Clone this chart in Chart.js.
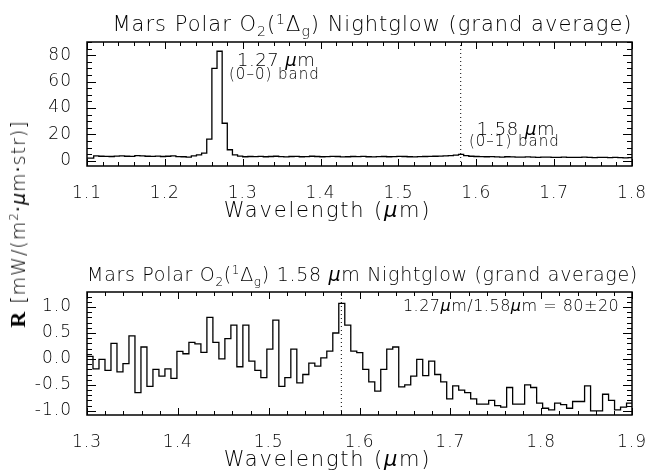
<!DOCTYPE html>
<html lang="en">
<head>
<meta charset="UTF-8">
<title>Mars Polar O2 Nightglow</title>
<script src="https://cdn.jsdelivr.net/npm/chart.js"></script>
<style>
  body { margin: 0; background: #fff; }
  #wrap { position: relative; width: 664px; height: 474px; overflow: hidden; font-family: "DejaVu Sans", sans-serif; }
  #wrap canvas { position: absolute; left: 0; }
  #c1 { top: 0; }
  #c2 { top: 237px; }
  #ylab {
    position: absolute; left: 18px; top: 224px;
    transform: translate(-50%, -50%) rotate(-90deg);
    white-space: nowrap; font-size: 19px; letter-spacing: 1px; font-weight: 200;
  }
  #ylab .r { font-family: "Liberation Serif", serif; font-weight: bold; font-size: 22px; }
  #ylab sup { font-size: 12px; }
</style>
</head>
<body>
<div id="wrap">
  <canvas id="c1" width="664" height="237"></canvas>
  <canvas id="c2" width="664" height="237"></canvas>
  <div id="ylab"><span class="r">R</span> [mW/(m<sup>2</sup><b>&middot;</b><i>&mu;</i>m<b>&middot;</b>str)]</div>
</div>
<script>
// spectrum sampling (bin left edges)
const binWidth = 0.0066;
const topStart = 1.0954;
const bottomStart = 1.3;
const bandLine = 1.58;

// top panel: full spectrum, 1.1 - 1.8 um
const topValues = [
  2.0, 2.0, 3.6, 3.4, 3.3, 3.2, 3.5, 3.6, 3.4, 3.3,
  3.8, 3.6, 3.4, 3.3, 3.5, 3.2, 3.4, 3.6, 3.1, 3.0,
  2.7, 3.6, 4.5, 5.7, 16.4, 70, 83, 28.4, 8.3, 4.5, 3.5,
  3.0, 3.2, 3.1, 3.3, 3.0, 3.2, 3.4, 3.1, 2.9, 3.2,
  3.3, 3.0, 3.1, 3.4, 3.2, 3.0, 3.1, 3.3, 3.2, 2.9,
  3.0, 3.2, 3.1, 3.3, 3.0, 2.9, 3.1, 3.2, 3.0, 3.1,
  3.3, 3.2, 3.0, 2.9, 3.1, 3.2, 3.3, 3.4, 3.5, 3.6,
  3.8, 4.2, 4.8, 3.9, 3.4,
  3.2, 3.1, 3.0, 3.1, 2.9, 2.8, 3.0, 2.9, 2.8, 2.7,
  2.9, 2.8, 2.6, 2.7, 2.8, 2.6, 2.5, 2.7, 2.6, 2.5,
  2.6, 2.7, 2.5, 2.4, 2.6, 2.5, 2.4, 2.5, 2.3, 2.2, 2.4
];

// bottom panel: 1.58 um band, 1.3 - 1.9 um
const bottomValues = [
  0.05, -0.19, -0.01, -0.22, 0.30, -0.25, -0.09, 0.445, -0.65, 0.23,
  -0.53, -0.20, -0.33, -0.19, -0.375, 0.146, 0.10, 0.32, 0.29, 0.127,
  0.80, 0.32, 0.0, 0.39, 0.65, -0.15, 0.65, -0.04, -0.22, -0.36,
  0.19, 0.75, -0.53, -0.36, 0.19, -0.46, -0.30, -0.08, -0.14, 0.02,
  0.15, 0.50, 1.07, 0.65, 0.15, 0.12, -0.20, -0.44, -0.62, -0.20,
  0.19, 0.23, -0.54, -0.50, -0.33, -0.01, -0.32, -0.04, -0.30, -0.44,
  -0.77, -0.52, -0.60, -0.65, -0.77, -0.87, -0.87, -0.80, -0.90, -0.93,
  -0.55, -0.87, -0.87, -0.50, -0.55, -0.85, -0.95, -0.98, -0.85, -0.88,
  -0.95, -0.82, -0.82, -0.52, -1.00, -1.00, -0.68, -0.80, -0.98, -0.93,
  -0.85
];

const topXTicks = [1.1, 1.2, 1.3, 1.4, 1.5, 1.6, 1.7, 1.8];
const topYTicks = [0, 20, 40, 60, 80];
const bottomXTicks = [1.3, 1.4, 1.5, 1.6, 1.7, 1.8, 1.9];
const bottomYTicks = [-1.0, -0.5, 0.0, 0.5, 1.0];

const FONT = '"DejaVu Sans", sans-serif';
const WEIGHT = '200';
Chart.defaults.font.family = FONT;
Chart.defaults.font.weight = WEIGHT;
Chart.defaults.color = '#000';

function stepPoints(start, values) {
  const pts = values.map((v, i) => ({ x: start + i * binWidth, y: v }));
  pts.push({ x: start + values.length * binWidth, y: values[values.length - 1] });
  return pts;
}

// draws a run of text pieces (sub/superscripts, italic mu)
function richText(ctx, x, y, parts, size, align, spacing) {
  const fontOf = p => (p.it ? 'italic ' : '') + WEIGHT + ' ' + Math.round(size * (p.s || 1)) + 'px ' + FONT;
  ctx.letterSpacing = (spacing || 0) + 'px';
  let w = 0;
  parts.forEach(p => { ctx.font = fontOf(p); w += ctx.measureText(p.t).width; });
  let cx = align === 'center' ? x - w / 2 : align === 'right' ? x - w : x;
  ctx.textAlign = 'left';
  ctx.textBaseline = 'alphabetic';
  parts.forEach(p => {
    ctx.font = fontOf(p);
    ctx.fillText(p.t, cx, y + (p.dy || 0));
    cx += ctx.measureText(p.t).width;
  });
}

// IDL style frame with inward major/minor ticks + texts
const idlFrame = {
  id: 'idlFrame',
  beforeDraw(chart) {
    chart.ctx.letterSpacing = '1px';
  },
  afterDatasetsDraw(chart, args, o) {
    const { ctx, chartArea: a, scales: { x, y } } = chart;
    ctx.save();
    ctx.strokeStyle = '#000';
    ctx.lineWidth = 1;
    ctx.beginPath();
    const ticksOn = (scale, major, minor, isX) => {
      const n0 = Math.ceil(scale.min / minor - 1e-6), n1 = Math.floor(scale.max / minor + 1e-6);
      for (let n = n0; n <= n1; n++) {
        const v = n * minor;
        const r = v / major;
        const isMajor = Math.abs(r - Math.round(r)) < 1e-6;
        const p = Math.round(scale.getPixelForValue(v)) + 0.5;
        if (isX) {
          const len = isMajor ? 7 : 4;
          ctx.moveTo(p, a.bottom); ctx.lineTo(p, a.bottom - len);
          ctx.moveTo(p, a.top); ctx.lineTo(p, a.top + len);
        } else {
          const len = isMajor ? 9 : 5;
          ctx.moveTo(a.left, p); ctx.lineTo(a.left + len, p);
          ctx.moveTo(a.right, p); ctx.lineTo(a.right - len, p);
        }
      }
    };
    ticksOn(x, o.xMajor, o.xMinor, true);
    ticksOn(y, o.yMajor, o.yMinor, false);
    ctx.stroke();
    ctx.lineWidth = 1.5;
    ctx.strokeRect(a.left, a.top, a.right - a.left, a.bottom - a.top);

    ctx.fillStyle = '#000';
    const cxm = (a.left + a.right) / 2;
    richText(ctx, cxm + o.titleDx, o.titleY, o.title, o.titleSize, 'center', o.titleSp);
    richText(ctx, cxm - 32, o.xTitleY, [{ t: 'Wavelength (' }, { t: 'μ', it: true }, { t: 'm)' }], 21, 'center', 1.8);
    o.notes.forEach(n => {
      richText(ctx, x.getPixelForValue(n.x), y.getPixelForValue(n.y), n.parts, n.size, n.align || 'left', n.sp);
    });
    ctx.restore();
  }
};

function makeChart(id, cfg) {
  return new Chart(document.getElementById(id), {
    type: 'line',
    data: {
      datasets: [
        {
          data: stepPoints(cfg.start, cfg.values),
          stepped: 'before',
          borderColor: '#000',
          borderWidth: 1.3,
          pointRadius: 0,
          fill: false
        },
        {
          data: [{ x: bandLine, y: cfg.yMin }, { x: bandLine, y: cfg.yMax }],
          borderColor: '#000',
          borderWidth: 1,
          borderDash: [1, 3],
          pointRadius: 0,
          fill: false
        }
      ]
    },
    options: {
      responsive: false,
      animation: false,
      devicePixelRatio: 1,
      layout: { padding: { left: 0, right: 32, top: cfg.padTop, bottom: 0 } },
      plugins: {
        legend: { display: false },
        tooltip: { enabled: false },
        idlFrame: cfg.frame
      },
      scales: {
        x: {
          type: 'linear', min: cfg.xMin, max: cfg.xMax,
          grid: { display: false }, border: { display: false },
          afterBuildTicks: s => { s.ticks = cfg.xTicks.map(v => ({ value: v })); },
          afterFit: s => { s.height = cfg.xHeight; },
          ticks: { font: { size: 17 }, padding: 9, maxRotation: 0, autoSkip: false, callback: v => v.toFixed(1) }
        },
        y: {
          type: 'linear', min: cfg.yMin, max: cfg.yMax,
          grid: { display: false }, border: { display: false },
          afterBuildTicks: s => { s.ticks = cfg.yTicks.map(v => ({ value: v })); },
          afterFit: s => { s.width = 87; },
          ticks: { font: { size: 17 }, padding: 7, callback: cfg.yFmt }
        }
      }
    },
    plugins: [idlFrame]
  });
}

const mu = { t: 'μ', it: true };

makeChart('c1', {
  start: topStart, values: topValues,
  xMin: 1.1, xMax: 1.8, yMin: -4, yMax: 90,
  xTicks: topXTicks, yTicks: topYTicks,
  yFmt: v => String(v),
  padTop: 42, xHeight: 71,
  frame: {
    xMajor: 0.1, xMinor: 0.02, yMajor: 20, yMinor: 5,
    titleDx: 13, titleY: 31, titleSize: 21, titleSp: 1, xTitleY: 217,
    title: [{ t: 'Mars Polar O' }, { t: '2', s: 0.65, dy: 5 }, { t: '(' }, { t: '1', s: 0.65, dy: -7 },
            { t: 'Δ' }, { t: 'g', s: 0.65, dy: 5 }, { t: ') Nightglow (grand average)' }],
    notes: [
      { x: 1.2927, y: 71.7, size: 18, sp: 0.5, parts: [{ t: '1.27 ' }, mu, { t: 'm' }] },
      { x: 1.2824, y: 62, size: 15, sp: 1, parts: [{ t: '(0–0) band' }] },
      { x: 1.6005, y: 19.6, size: 18, sp: 0.5, parts: [{ t: '1.58 ' }, mu, { t: 'm' }] },
      { x: 1.5906, y: 10.8, size: 15, sp: 1, parts: [{ t: '(0–1) band' }] }
    ]
  }
});

makeChart('c2', {
  start: bottomStart, values: bottomValues,
  xMin: 1.3, xMax: 1.9, yMin: -1.08, yMax: 1.29,
  xTicks: bottomXTicks, yTicks: bottomYTicks,
  yFmt: v => v.toFixed(1),
  padTop: 55, xHeight: 59,
  frame: {
    xMajor: 0.1, xMinor: 0.02, yMajor: 0.5, yMinor: 0.1,
    titleDx: 3, titleY: 44, titleSize: 19, titleSp: 0.7, xTitleY: 229,
    title: [{ t: 'Mars Polar O' }, { t: '2', s: 0.65, dy: 5 }, { t: '(' }, { t: '1', s: 0.65, dy: -7 },
            { t: 'Δ' }, { t: 'g', s: 0.65, dy: 5 }, { t: ') 1.58 ' }, mu, { t: 'm Nightglow (grand average)' }],
    notes: [
      { x: 1.886, y: 0.93, size: 16, sp: 0.5, align: 'right',
        parts: [{ t: '1.27' }, mu, { t: 'm/1.58' }, mu, { t: 'm = 80±20' }] }
    ]
  }
});
</script>
</body>
</html>
